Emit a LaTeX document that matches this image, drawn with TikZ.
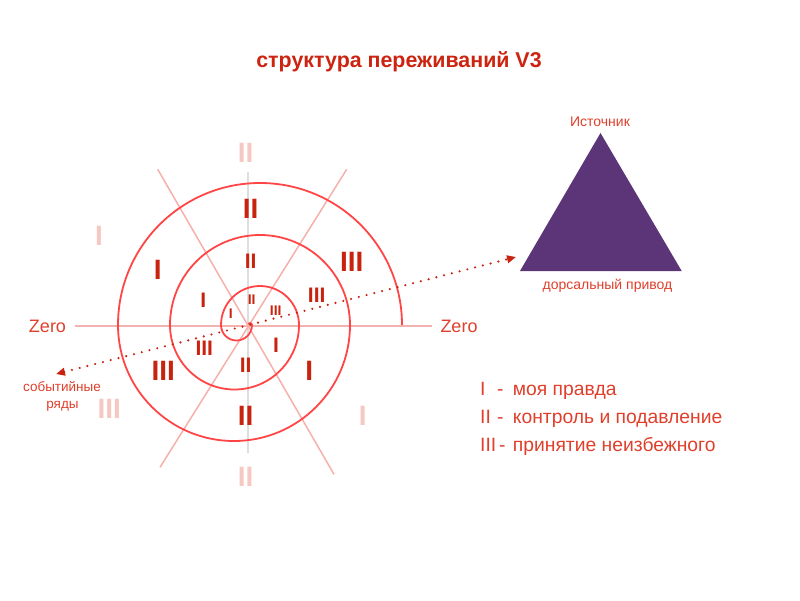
\documentclass[tikz,border=0pt]{standalone}
\usepackage{fontspec}
\setmainfont{Liberation Sans}
\usetikzlibrary{arrows.meta}
\definecolor{numred}{HTML}{C8230F}
\definecolor{fade}{HTML}{F6C8C2}
\definecolor{txtred}{HTML}{DF3F2B}
\definecolor{spiralred}{HTML}{FF4545}
\definecolor{axispink}{HTML}{F2B3B0}
\definecolor{vaxis}{HTML}{DEDEDE}
\definecolor{diagpink}{HTML}{F5B0AB}
\definecolor{tripurple}{HTML}{5C3478}
\definecolor{titlered}{HTML}{CC2410}
\begin{document}
\begin{tikzpicture}[x=1pt,y=-1pt,
  numL/.style={font=\fontsize{28}{28}\selectfont\bfseries, text=numred, inner sep=0pt},
  numM/.style={font=\fontsize{21}{21}\selectfont\bfseries, text=numred, inner sep=0pt},
  numS/.style={font=\fontsize{14}{14}\selectfont\bfseries, text=numred, inner sep=0pt},
  numF/.style={font=\fontsize{28}{28}\selectfont\bfseries, text=fade, inner sep=0pt},
  lbl/.style={text=txtred, inner sep=0pt, anchor=base},
  zerolbl/.style={lbl, font=\fontsize{18}{18}\selectfont},
  smalllbl/.style={lbl, font=\fontsize{13.5}{14}\selectfont},
  legend/.style={text=txtred, inner sep=0pt, anchor=base west, font=\fontsize{19.3}{20}\selectfont},
  spiralline/.style={draw=spiralred, line width=1.8pt},
  hline/.style={draw=axispink, line width=2pt},
  vline/.style={draw=vaxis, line width=1.5pt},
  diagline/.style={draw=diagpink, line width=1.5pt},
  dotline/.style={draw=numred, line width=2.4pt, line cap=round, dash pattern=on 0pt off 8pt}
]
\useasboundingbox (0,0) rectangle (800,600);
% title
\node[lbl, text=titlered, font=\fontsize{21.4}{24}\selectfont\bfseries] (title) at (399,67) {структура переживаний V3};
% axes
\coordinate (hl) at (75,325.5);
\coordinate (hr) at (432,325.5);
\coordinate (vt) at (248,171.7);
\coordinate (vb) at (248,453);
\coordinate (d1a) at (157.7,169.3);
\coordinate (d1b) at (334,474.3);
\coordinate (d2a) at (346.7,169.3);
\coordinate (d2b) at (160,467.3);
\draw[hline] (hl) -- (hr);
\draw[vline] (vt) -- (vb);
\draw[diagline] (d1a) -- (d1b);
\draw[diagline] (d2a) -- (d2b);
% spiral
\coordinate (sp) at (402,325);
\draw[spiralline] (sp) arc[start angle=0,end angle=180,radius=142pt]
  arc[start angle=180,end angle=360,radius=116pt]
  arc[start angle=0,end angle=180,radius=90pt]
  arc[start angle=180,end angle=360,radius=64.5pt]
  arc[start angle=0,end angle=180,radius=39pt]
  arc[start angle=180,end angle=360,radius=15.5pt]
  arc[start angle=0,end angle=150,radius=2pt];
% numerals outer
\node[numL] (o1) at (250.7,209) {II};
\node[numL] (o2) at (157.7,270) {I};
\node[numL] (o3) at (351.7,261.7) {III};
\node[numL] (o4) at (163.3,370.7) {III};
\node[numL] (o5) at (309.3,370.7) {I};
\node[numL] (o6) at (245.7,415.7) {II};
% middle
\node[numM] (m1) at (250.7,261.7) {II};
\node[numM] (m2) at (203.3,300) {I};
\node[numM] (m3) at (316.7,295) {III};
\node[numM] (m4) at (204.3,348.3) {III};
\node[numM] (m5) at (276,345) {I};
\node[numM] (m6) at (245.7,365) {II};
% inner
\node[numS] (i1) at (251.7,299.3) {II};
\node[numS] (i2) at (230.7,314) {I};
\node[numS] (i3) at (275.7,311) {III};
% faded
\node[numF] (f1) at (245.7,152.7) {II};
\node[numF] (f2) at (99,236) {I};
\node[numF] (f3) at (109.3,409.3) {III};
\node[numF] (f4) at (362.7,416) {I};
\node[numF] (f5) at (245.7,476.7) {II};
% Zero labels
\node[zerolbl] (zl) at (47.5,332.3) {Zero};
\node[zerolbl] (zr) at (459,332.3) {Zero};
% event rows
\node[smalllbl] (ev1) at (62,391.7) {событийные};
\node[smalllbl] (ev2) at (62.5,408.5) {ряды};
% triangle
\coordinate (ta) at (600.5,133);
\coordinate (tl) at (520,271);
\coordinate (tr) at (681.7,271);
\fill[tripurple] (ta) -- (tl) -- (tr) -- cycle;
\node[smalllbl, font=\fontsize{14}{14}\selectfont] (src) at (600,126) {Источник};
\node[smalllbl, font=\fontsize{14}{14}\selectfont] (dors) at (607.5,289) {дорсальный привод};
% dotted arrow
\coordinate (arL) at (56,374);
\coordinate (arR) at (516,257);
\draw[dotline, {Triangle[length=9pt,width=7.5pt]}-{Triangle[length=9pt,width=7.5pt]}] (arL) -- (arR);
% legend
\node[legend] (lg1) at (480,395) {\makebox[17pt][l]{I}\makebox[15.7pt][l]{-}моя правда};
\node[legend] (lg2) at (480,423.3) {\makebox[17pt][l]{II}\makebox[15.7pt][l]{-}контроль и подавление};
\node[legend] (lg3) at (480,451.7) {\makebox[19pt][l]{III}\makebox[13.7pt][l]{-}принятие неизбежного};
\end{tikzpicture}
\end{document}
